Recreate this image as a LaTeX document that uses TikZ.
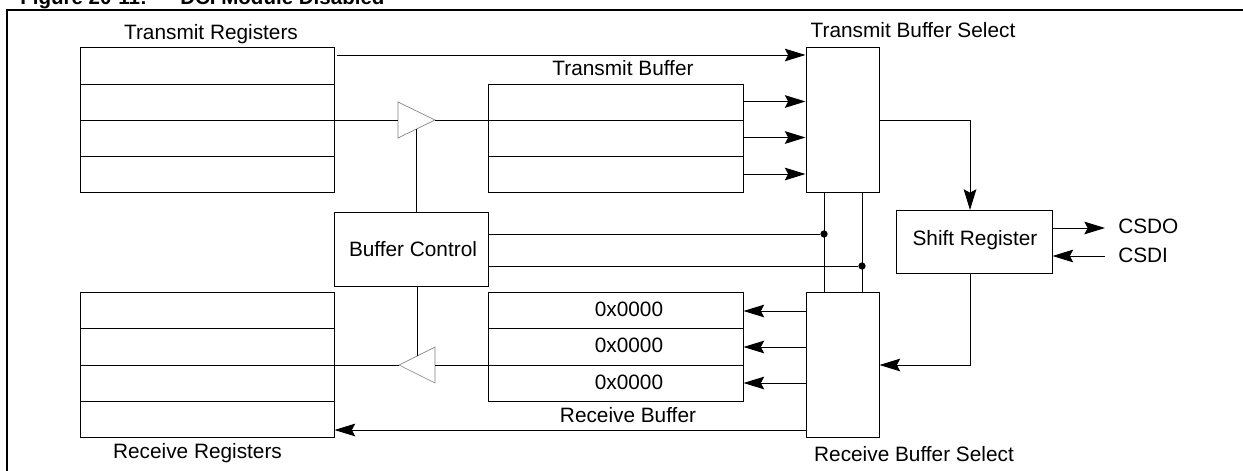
\documentclass[tikz,border=0pt]{standalone}
\usepackage{fontspec}
\setmainfont{Liberation Sans}
\usetikzlibrary{arrows.meta,fit}
\begin{document}
\begin{tikzpicture}[x=0.75pt,y=-0.75pt,
  box/.style={draw,line width=0.75pt,inner sep=0pt},
  lbl/.style={font=\fontsize{15.6}{18}\selectfont, inner sep=0pt},
  ttl/.style={font=\fontsize{15.4}{18}\selectfont\bfseries, inner sep=0pt},
  wire/.style={line width=0.75pt},
  arr/.style={wire,-{Stealth[length=15.5pt,width=9.5pt,inset=2.5pt]}},
  buf/.style={draw=gray,line width=0.5pt,fill=white},
  dot/.style={circle,fill,inner sep=0pt,minimum size=5.5pt}]
\useasboundingbox (0,0) rectangle (1243,471);
\fill[white] (0,0) rectangle (1243,471);

% frame and clipped title
\draw[line width=1.9pt] (7,490) -- (7,10) -- (1260,10);
\node[ttl,anchor=base west] (fig) at (20,5) {Figure 20-11:};
\node[ttl,anchor=base west] (title) at (180,5) {DCI Module Disabled};

% boxes
\node[box,fit={(80,47)(334,192)}] (tr) {};
\draw[wire] (80,84) -- (334,84) (80,120) -- (334,120) (80,156) -- (334,156);
\node[box,fit={(488,84)(743,192)}] (tb) {};
\draw[wire] (488,120) -- (743,120) (488,156) -- (743,156);
\node[box,fit={(806,47)(879,192)}] (tbs) {};
\node[box,fit={(334,212)(488,286)}] (bc) {};
\node[box,fit={(896,210)(1052,273)}] (sr) {};
\node[box,fit={(806,292)(879,437)}] (rbs) {};
\node[box,fit={(488,292)(743,401)}] (rb) {};
\draw[wire] (488,328) -- (743,328) (488,365) -- (743,365);
\node[box,fit={(80,292)(334,437)}] (rr) {};
\draw[wire] (80,328) -- (334,328) (80,365) -- (334,365) (80,401) -- (334,401);

% labels
\node[lbl,anchor=base] (ltr) at (211,39) {Transmit Registers};
\node[lbl,anchor=base] (ltb) at (623,75) {Transmit Buffer};
\node[lbl,anchor=base] (ltbs) at (913,37) {Transmit Buffer Select};
\node[lbl,anchor=base] (lbc) at (413,256) {Buffer Control};
\node[lbl,anchor=base] (lsr) at (975,245) {Shift Register};
\node[lbl,anchor=base west] (lcsdo) at (1118,233) {CSDO};
\node[lbl,anchor=base west] (lcsdi) at (1118,262.5) {CSDI};
\node[lbl,anchor=base] (r1) at (629,316) {0x0000};
\node[lbl,anchor=base] (r2) at (629,352.5) {0x0000};
\node[lbl,anchor=base] (r3) at (629,389) {0x0000};
\node[lbl,anchor=base] (lrb) at (628,422.5) {Receive Buffer};
\node[lbl,anchor=base] (lrr) at (197.5,458) {Receive Registers};
\node[lbl,anchor=base] (lrbs) at (914,461.5) {Receive Buffer Select};

% transmit buffer amplifier
\draw[buf] (398,102) -- (398,138) -- (435,120) -- cycle;
\coordinate (t1in) at (398,120);
\coordinate (t1out) at (435,120);
\coordinate (t1v) at (416,129);
\draw[wire] (tr.east |- t1in) -- (t1in);
\draw[wire] (t1out) -- (tb.west |- t1out);
\draw[wire] (bc.north -| t1v) -- (t1v);

% receive buffer amplifier
\draw[buf] (435,347) -- (435,383) -- (399,365) -- cycle;
\coordinate (t2in) at (435,365);
\coordinate (t2out) at (399,365);
\coordinate (t2v) at (417,356);
\draw[wire] (rb.west |- t2in) -- (t2in);
\draw[wire] (t2out) -- (rr.east |- t2out);
\draw[wire] (bc.south -| t2v) -- (t2v);

% transmit arrows
\coordinate (a0) at (337,55);
\draw[arr] (a0) -- (a0 -| tbs.west);
\draw[arr] (tb.east |- 0,101.5) -- (tbs.west |- 0,101.5);
\draw[arr] (tb.east |- 0,137.5) -- (tbs.west |- 0,137.5);
\draw[arr] (tb.east |- 0,174) -- (tbs.west |- 0,174);

% TBS to shift register
\coordinate (srin) at (970,210);
\draw[arr] (tbs.east |- 0,120) -| (srin);

% buffer control lines
\node[dot] (d1) at (824,234) {};
\node[dot] (d2) at (862,266) {};
\draw[wire] (bc.east |- d1) -- (d1);
\draw[wire] (bc.east |- d2) -- (d2);
\draw[wire] (tbs.south -| d1) -- (rbs.north -| d1);
\draw[wire] (tbs.south -| d2) -- (rbs.north -| d2);

% CSDO / CSDI
\coordinate (csdo) at (1105,228);
\coordinate (csdi) at (1105,256);
\draw[arr] (sr.east |- csdo) -- (csdo);
\draw[arr] (csdi) -- (sr.east |- csdi);

% shift register to RBS
\coordinate (srout) at (970,273);
\draw[arr] (srout) |- (rbs.east |- 0,365);

% RBS to receive buffer
\draw[arr] (rbs.west |- 0,311) -- (rb.east |- 0,311);
\draw[arr] (rbs.west |- 0,347) -- (rb.east |- 0,347);
\draw[arr] (rbs.west |- 0,383) -- (rb.east |- 0,383);

% RBS to receive registers
\draw[arr] (rbs.west |- 0,430) -- (rr.east |- 0,430);
\end{tikzpicture}
\end{document}
